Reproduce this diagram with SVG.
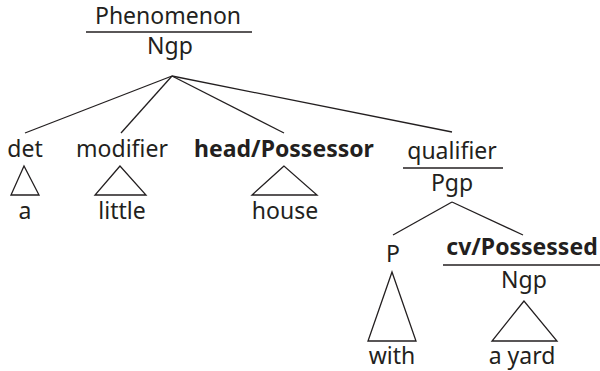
<svg xmlns="http://www.w3.org/2000/svg" width="600" height="371" viewBox="0 0 600 371">
  <style>
    text { font-family: "Noto Sans", "Open Sans", sans-serif; font-size: 23px; fill: #231f20; text-anchor: middle; }
    .b { font-weight: bold; }
    .ln { stroke: #231f20; stroke-width: 1.3; fill: none; }
  </style>
  <rect width="600" height="371" fill="#ffffff"/>

  <g id="root">
    <text x="168" y="24">Phenomenon</text>
    <line class="ln" x1="86" y1="32" x2="252" y2="32"/>
    <text x="170" y="54">Ngp</text>
  </g>

  <g id="det">
    <text x="25" y="157">det</text>
    <polygon class="ln" points="24,166 11,195 39,195"/>
    <text x="25" y="219">a</text>
  </g>

  <g id="modifier">
    <text x="122" y="157">modifier</text>
    <polygon class="ln" points="120,166 95,195 146,195"/>
    <text x="122" y="219">little</text>
  </g>

  <g id="head">
    <text class="b" x="284" y="157">head/Possessor</text>
    <polygon class="ln" points="284,166 252,195 317,195"/>
    <text x="285" y="219">house</text>
  </g>

  <g id="qualifier">
    <text x="452" y="159">qualifier</text>
    <line class="ln" x1="403" y1="168" x2="503" y2="168"/>
    <text x="452" y="191">Pgp</text>
  </g>

  <g id="p">
    <text x="393" y="262">P</text>
    <polygon class="ln" points="392,272 368,341 416,341"/>
    <text x="392" y="364">with</text>
  </g>

  <g id="possessed">
    <text class="b" x="522" y="255">cv/Possessed</text>
    <line class="ln" x1="443" y1="265" x2="600" y2="265"/>
    <text x="524" y="288">Ngp</text>
    <polygon class="ln" points="524,301 492,341 557,341"/>
    <text x="522" y="364">a yard</text>
  </g>

  <g id="connectors" class="ln">
    <line x1="172" y1="76" x2="25" y2="133"/>
    <line x1="172" y1="76" x2="121" y2="133"/>
    <line x1="172" y1="76" x2="284" y2="133"/>
    <line x1="172" y1="76" x2="452" y2="132"/>
    <line x1="452" y1="202" x2="393" y2="235"/>
    <line x1="452" y1="202" x2="523" y2="235"/>
  </g>
</svg>
